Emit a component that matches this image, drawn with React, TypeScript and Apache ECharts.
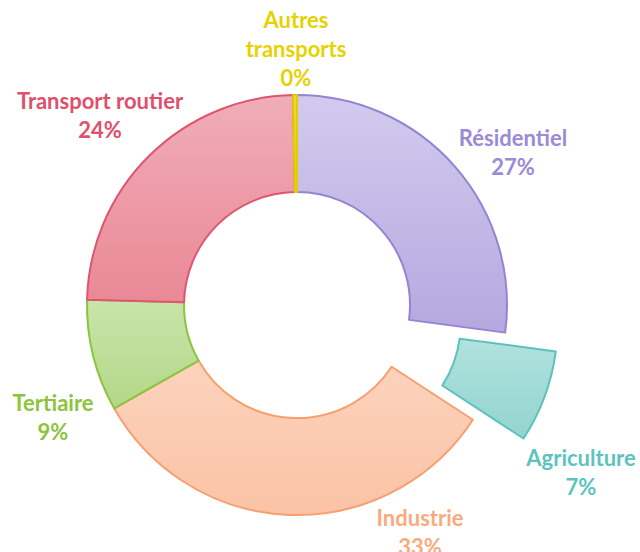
import React, { useEffect, useRef } from "react";
import * as echarts from "echarts";

const categories = ["Résidentiel", "Agriculture", "Industrie", "Tertiaire", "Transport routier", "Autres transports"];
const values = [27.1, 7.1, 32.6, 8.6, 24.3, 0.3];
const fillTop = ["#d2cbee", "#b1e2df", "#fcd3bd", "#c9e5ab", "#f0aeb8", "#ecdc3a"];
const fillBottom = ["#b5a8e0", "#93d4cf", "#fbc3a6", "#b3d787", "#ea8896", "#e3cd00"];
const borderColors = ["#9484d2", "#5cc2bb", "#f5a06e", "#8bc43f", "#df5570", "#e3cd00"];
const labelColors = ["#9b8ad6", "#5cc4bd", "#f9ab7f", "#8cc43d", "#e0506c", "#e6d200"];
const labelAnchors = [[513, 152], [581, 472], [420, 532], [53, 417], [100, 115], [296, 48]];

export default function App() {
  const ref = useRef<HTMLDivElement>(null);
  useEffect(() => {
    if (!ref.current) return;
    const chart = echarts.init(ref.current, null, { renderer: "svg" });
    const total = values.reduce((a, b) => a + b, 0);
    const data = categories.map((name, i) => ({
      name,
      value: values[i],
      selected: name === "Agriculture",
      itemStyle: {
        color: new echarts.graphic.LinearGradient(0, 0, 0, 1, [
          { offset: 0, color: fillTop[i] },
          { offset: 1, color: fillBottom[i] },
        ]),
        borderColor: borderColors[i],
        borderWidth: 2,
      },
    }));
    const labels = categories.map((name, i) => {
      const n = name === "Autres transports" ? "Autres\ntransports" : name;
      const pct = Math.round((values[i] / total) * 100);
      return {
        type: "text",
        x: labelAnchors[i][0],
        y: labelAnchors[i][1],
        silent: true,
        style: {
          text: n + "\n" + pct + "%",
          fill: labelColors[i],
          font: "bold 22px Lato",
          lineHeight: 29,
          align: "center",
          verticalAlign: "middle",
        },
      };
    });
    chart.setOption({
      animation: false,
      backgroundColor: "#ffffff",
      graphic: labels,
      series: [
        {
          type: "pie",
          center: [297, 305],
          radius: [113, 210],
          startAngle: 90,
          clockwise: true,
          selectedMode: "multiple",
          selectedOffset: 54,
          silent: true,
          label: { show: false },
          labelLine: { show: false },
          data,
        },
      ],
    });
    return () => chart.dispose();
  }, []);
  return <div ref={ref} style={{ position: "fixed", left: 0, top: 0, width: 640, height: 552 }} />;
}
